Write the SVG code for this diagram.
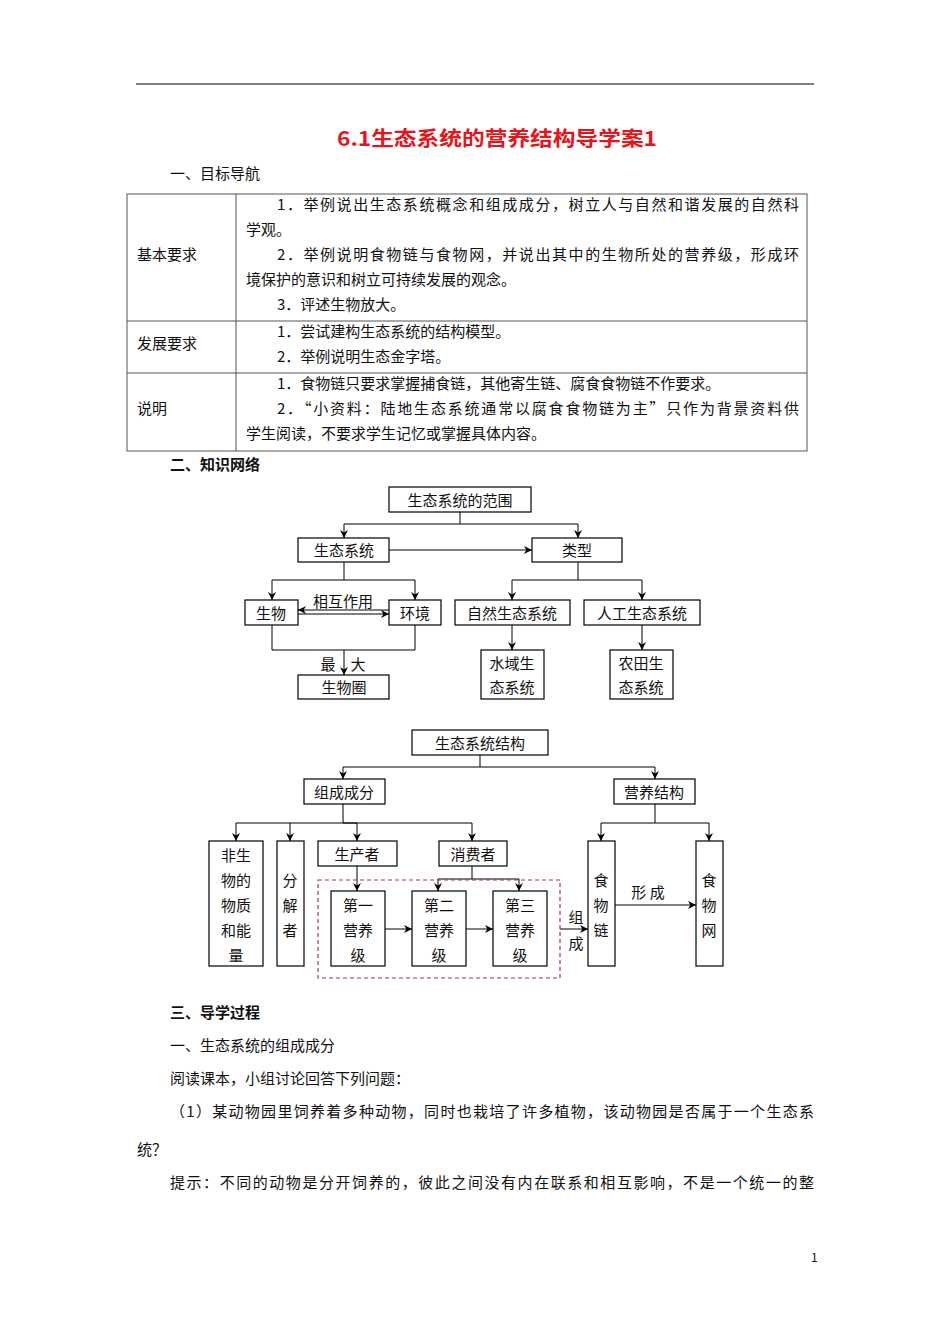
<svg xmlns="http://www.w3.org/2000/svg" width="950" height="1344" viewBox="0 0 950 1344">
<defs>
<style>
text{font-family:"Noto Sans CJK SC","Liberation Serif",sans-serif;fill:#111;dominant-baseline:central}
.b{font-size:15px}
.d{font-size:15px}
.c{text-anchor:middle}
.h{font-weight:bold;font-size:15px}
.t{font-size:20px;font-weight:bold;fill:#e8141b;text-anchor:middle}
.box{fill:#fff;stroke:#000;stroke-width:1.2}
.ln{fill:none;stroke:#000;stroke-width:1}
.ar{fill:none;stroke:#000;stroke-width:1;marker-end:url(#ah)}
.tb{fill:none;stroke:#555;stroke-width:1}
</style>
<marker id="ah" viewBox="0 0 10 10" refX="10" refY="5" markerWidth="8" markerHeight="8" markerUnits="userSpaceOnUse" orient="auto"><path d="M0,0 L10,5 L0,10 L3,5 z" fill="#000"/></marker>
</defs>
<rect width="950" height="1344" fill="#fff"/>
<line x1="136" y1="84" x2="814" y2="84" stroke="#000" stroke-width="1.2"/>
<text class="t" x="497" y="137" textLength="320" lengthAdjust="spacingAndGlyphs">6.1生态系统的营养结构导学案1</text>
<text class="b" x="170" y="172">一、目标导航</text>

<g id="table">
<rect class="tb" x="127" y="194" width="680" height="257"/>
<line class="tb" x1="236" y1="194" x2="236" y2="451"/>
<line class="tb" x1="127" y1="321" x2="807" y2="321"/>
<line class="tb" x1="127" y1="373" x2="807" y2="373"/>
<text class="b" x="137" y="253">基本要求</text>
<text class="b" x="137" y="342">发展要求</text>
<text class="b" x="137" y="407">说明</text>
<text class="b" x="277" y="203" textLength="522">1．举例说出生态系统概念和组成成分，树立人与自然和谐发展的自然科</text>
<text class="b" x="246" y="228">学观。</text>
<text class="b" x="277" y="253" textLength="522">2．举例说明食物链与食物网，并说出其中的生物所处的营养级，形成环</text>
<text class="b" x="246" y="278">境保护的意识和树立可持续发展的观念。</text>
<text class="b" x="277" y="303">3．评述生物放大。</text>
<text class="b" x="277" y="330">1．尝试建构生态系统的结构模型。</text>
<text class="b" x="277" y="355">2．举例说明生态金字塔。</text>
<text class="b" x="277" y="382">1．食物链只要求掌握捕食链，其他寄生链、腐食食物链不作要求。</text>
<text class="b" x="277" y="407" textLength="522">2．“小资料：陆地生态系统通常以腐食食物链为主”只作为背景资料供</text>
<text class="b" x="246" y="432">学生阅读，不要求学生记忆或掌握具体内容。</text>
</g>

<text class="h" x="170" y="463">二、知识网络</text>

<g id="connectors1">
<path class="ln" d="M460,512 V524"/>
<path class="ar" d="M460,524 H344 V538"/>
<path class="ar" d="M460,524 H578 V538"/>
<path class="ar" d="M389,550 H532"/>
<path class="ln" d="M344,562 V580"/>
<path class="ar" d="M344,580 H272 V600"/>
<path class="ar" d="M344,580 H415 V600"/>
<path class="ar" d="M389,610 H298"/>
<path class="ar" d="M298,614 H389"/>
<path class="ln" d="M272,625 V650 H415 V625"/>
<path class="ar" d="M344,650 V675"/>
<path class="ln" d="M578,562 V580"/>
<path class="ar" d="M578,580 H512 V600"/>
<path class="ar" d="M578,580 H642 V600"/>
<path class="ar" d="M512,625 V650"/>
<path class="ar" d="M642,625 V650"/>
<text class="d c" x="343" y="600" font-size="14">相互作用</text>
<text class="d c" x="328" y="663" font-size="14">最</text>
<text class="d c" x="358" y="663" font-size="14">大</text>
</g>

<g id="n-range"><rect class="box" x="389" y="487" width="142" height="25"/><text class="d c" x="460" y="499">生态系统的范围</text></g>
<g id="n-eco"><rect class="box" x="298" y="538" width="91" height="24"/><text class="d c" x="344" y="549">生态系统</text></g>
<g id="n-type"><rect class="box" x="532" y="538" width="90" height="24"/><text class="d c" x="577" y="549">类型</text></g>
<g id="n-bio"><rect class="box" x="245" y="600" width="53" height="25"/><text class="d c" x="271" y="612">生物</text></g>
<g id="n-env"><rect class="box" x="389" y="600" width="52" height="25"/><text class="d c" x="415" y="612">环境</text></g>
<g id="n-sphere"><rect class="box" x="298" y="675" width="91" height="24"/><text class="d c" x="344" y="686">生物圈</text></g>
<g id="n-natural"><rect class="box" x="455" y="600" width="115" height="25"/><text class="d c" x="512" y="612">自然生态系统</text></g>
<g id="n-artificial"><rect class="box" x="584" y="600" width="116" height="25"/><text class="d c" x="642" y="612">人工生态系统</text></g>
<g id="n-water"><rect class="box" x="481" y="650" width="63" height="49"/><text class="d c" x="512" y="662">水域生</text><text class="d c" x="512" y="686">态系统</text></g>
<g id="n-farm"><rect class="box" x="610" y="650" width="63" height="49"/><text class="d c" x="641" y="662">农田生</text><text class="d c" x="641" y="686">态系统</text></g>

<g id="connectors2">
<path class="ln" d="M480,755 V767"/>
<path class="ar" d="M480,767 H343 V779"/>
<path class="ar" d="M480,767 H655 V779"/>
<path class="ln" d="M343,804 V823"/>
<path class="ar" d="M343,823 H236 V841"/>
<path class="ar" d="M290,823 V841"/>
<path class="ar" d="M343,823 H357 V841"/>
<path class="ar" d="M343,823 H472 V841"/>
<path class="ar" d="M357,866 V891"/>
<path class="ln" d="M472,866 V879"/>
<path class="ar" d="M472,879 H438 V891"/>
<path class="ar" d="M472,879 H519 V891"/>
<path class="ar" d="M385,929 H412"/>
<path class="ar" d="M466,929 H493"/>
<path class="ar" d="M560,929 H588"/>
<path class="ln" d="M655,804 V823"/>
<path class="ar" d="M655,823 H601 V841"/>
<path class="ar" d="M655,823 H709 V841"/>
<path class="ar" d="M615,905 H696"/>
<text class="d c" x="576" y="916" font-size="14">组</text>
<text class="d c" x="576" y="942" font-size="14">成</text>
<text class="d c" x="648" y="891" font-size="14">形 成</text>
</g>

<rect x="318" y="880" width="242" height="98" fill="none" stroke="#a8383a" stroke-width="1.2" stroke-dasharray="4,3"/>

<g id="n-struct"><rect class="box" x="412" y="730" width="136" height="25"/><text class="d c" x="480" y="742">生态系统结构</text></g>
<g id="n-comp"><rect class="box" x="304" y="779" width="81" height="25"/><text class="d c" x="344" y="791">组成成分</text></g>
<g id="n-troph"><rect class="box" x="614" y="779" width="81" height="25"/><text class="d c" x="654" y="791">营养结构</text></g>
<g id="n-abiotic"><rect class="box" x="209" y="841" width="54" height="125"/><text class="d c" x="236" y="854">非生</text><text class="d c" x="236" y="879">物的</text><text class="d c" x="236" y="904">物质</text><text class="d c" x="236" y="929">和能</text><text class="d c" x="236" y="954">量</text></g>
<g id="n-decomp"><rect class="box" x="277" y="841" width="27" height="125"/><text class="d c" x="290" y="879">分</text><text class="d c" x="290" y="904">解</text><text class="d c" x="290" y="929">者</text></g>
<g id="n-producer"><rect class="box" x="318" y="841" width="79" height="25"/><text class="d c" x="357" y="853">生产者</text></g>
<g id="n-consumer"><rect class="box" x="439" y="841" width="68" height="25"/><text class="d c" x="473" y="853">消费者</text></g>
<g id="n-l1"><rect class="box" x="331" y="891" width="54" height="75"/><text class="d c" x="358" y="904">第一</text><text class="d c" x="358" y="929">营养</text><text class="d c" x="358" y="954">级</text></g>
<g id="n-l2"><rect class="box" x="412" y="891" width="54" height="75"/><text class="d c" x="439" y="904">第二</text><text class="d c" x="439" y="929">营养</text><text class="d c" x="439" y="954">级</text></g>
<g id="n-l3"><rect class="box" x="493" y="891" width="54" height="75"/><text class="d c" x="520" y="904">第三</text><text class="d c" x="520" y="929">营养</text><text class="d c" x="520" y="954">级</text></g>
<g id="n-chain"><rect class="box" x="588" y="841" width="27" height="125"/><text class="d c" x="601" y="879">食</text><text class="d c" x="601" y="904">物</text><text class="d c" x="601" y="929">链</text></g>
<g id="n-web"><rect class="box" x="696" y="841" width="27" height="125"/><text class="d c" x="709" y="879">食</text><text class="d c" x="709" y="904">物</text><text class="d c" x="709" y="929">网</text></g>

<text class="h" x="170" y="1011">三、导学过程</text>
<text class="b" x="170" y="1044">一、生态系统的组成成分</text>
<text class="b" x="170" y="1077">阅读课本，小组讨论回答下列问题：</text>
<text class="b" x="170" y="1110" textLength="644">（1）某动物园里饲养着多种动物，同时也栽培了许多植物，该动物园是否属于一个生态系</text>
<text class="b" x="137" y="1148">统？</text>
<text class="b" x="170" y="1181" textLength="644">提示：不同的动物是分开饲养的，彼此之间没有内在联系和相互影响，不是一个统一的整</text>
<text x="811" y="1256" font-size="12" font-family="Liberation Serif,serif">1</text>
</svg>
